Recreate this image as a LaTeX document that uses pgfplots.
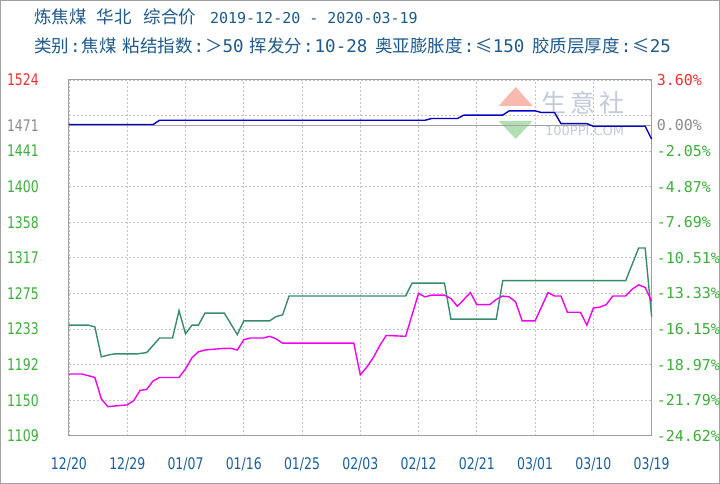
\documentclass[border=0pt]{standalone}
\usepackage{pgfplots}
\pgfplotsset{compat=1.18}
\usepackage{fontspec}
\setmainfont{DejaVu Sans}
\newfontfamily\cjk{Noto Sans CJK SC}
\newfontfamily\mono{DejaVu Sans Mono}
\newfontfamily\lbl{DejaVu Sans}[FakeStretch=0.78]
\definecolor{ttl}{RGB}{30,90,140}
\definecolor{dt}{RGB}{25,95,155}
\definecolor{tg}{RGB}{60,175,60}
\definecolor{tr}{RGB}{235,50,50}
\definecolor{tgray}{RGB}{140,140,140}
\definecolor{lblue}{RGB}{0,0,200}
\definecolor{lgreen}{RGB}{55,140,105}
\definecolor{lmag}{RGB}{240,0,240}
\definecolor{grd}{RGB}{195,195,195}
\definecolor{frm}{RGB}{160,160,160}
\definecolor{wmr}{RGB}{248,185,175}
\definecolor{wmg}{RGB}{180,222,180}
\definecolor{wmt}{RGB}{195,203,218}
\newcommand{\cl}{\hspace{1bp}{\mono:}\hspace{1bp}}
\begin{document}
\begin{tikzpicture}[x=1bp,y=1bp]
\draw[frm, line width=1bp, fill=white] (0.5,-0.5) rectangle (719.5,-483.5);
% title
\node[anchor=base west, inner sep=0, text=ttl] at (34,-24)
  {\cjk\fontsize{17.5bp}{18bp}\selectfont 炼焦煤\hspace{10bp}华北\hspace{12bp}综合价\hspace{14bp}\mono\fontsize{15bp}{18bp}\selectfont 2019-12-20 - 2020-03-19};
\node[anchor=base west, inner sep=0, text=ttl] at (34,-53)
  {\fontsize{17.5bp}{18bp}\selectfont\cjk 类别\cl 焦煤\hspace{6bp}粘结指数\cl ＞{\mono 50}\hspace{6bp}挥发分\cl{\mono 10-28}\hspace{8bp}奥亚膨胀度\cl ≤{\mono 150}\hspace{8bp}胶质层厚度\cl ≤{\mono 25}};
% watermark
\fill[wmr] (499,-106) -- (533,-106) -- (516,-87) -- cycle;
\fill[wmg] (499,-121) -- (533,-121) -- (516,-139) -- cycle;
\node[text=wmt, inner sep=0] at (583,-103) {\cjk\fontsize{25bp}{25bp}\selectfont 生\hspace{4bp}意\hspace{4bp}社};
\node[text=wmt, inner sep=0] at (585,-131) {\fontsize{13bp}{13bp}\selectfont 100PPI.COM};
\begin{axis}[
  at={(69bp,-436bp)}, anchor=south west,
  width=583bp, height=356bp, scale only axis,
  xmin=0, xmax=90, ymin=1109, ymax=1524,
  axis line style={frm, line width=1bp},
  major tick length=0pt,
  grid=major,
  major grid style={grd, dash pattern=on 2bp off 2bp, line width=0.8bp},
  xtick={0,9,...,90},
  xticklabels={12/20,12/29,01/07,01/16,01/25,02/03,02/12,02/21,03/01,03/10,03/19},
  xticklabel style={font=\lbl\fontsize{16bp}{16bp}\selectfont, text=dt, anchor=base, inner sep=0pt, yshift=-34bp},
  ytick={1109,1150.5,1192,1233.5,1275,1316.5,1358,1399.5,1441,1482.5,1524},
  yticklabels={\textcolor{tg}{1109},\textcolor{tg}{1150},\textcolor{tg}{1192},\textcolor{tg}{1233},\textcolor{tg}{1275},\textcolor{tg}{1317},\textcolor{tg}{1358},\textcolor{tg}{1400},\textcolor{tg}{1441},{},\textcolor{tr}{1524}},
  yticklabel style={font=\lbl\fontsize{16bp}{16bp}\selectfont, anchor=east, inner sep=0pt, xshift=-30bp},
  extra y ticks={1471},
  extra y tick labels={\textcolor{tgray}{1471}},
  extra y tick style={major grid style={solid, tgray!80, line width=1bp}},
  clip=false,
]
\addplot[lgreen, line width=1.4bp] coordinates {
(0,1238) (3,1238) (4,1236) (5,1201) (6,1203) (7,1204.5) (10.5,1204.5) (12,1206) (14,1223) (16,1223) (17,1255) (18,1228) (19,1238) (20,1238) (21,1252) (24,1252) (26,1227) (27,1243) (31,1243) (32,1248) (33,1250) (34,1272) (52,1272) (53,1287) (58,1287) (59,1245) (66,1245) (67,1290) (86,1290) (88,1328) (89,1328) (90,1248)
};
\addplot[lmag, line width=1.4bp] coordinates {
(0,1181) (2,1181) (4,1177) (5,1152) (6,1143) (9,1145) (10,1150) (11,1162) (12,1163) (13,1173) (14,1177) (17,1177) (18,1187) (19,1200) (20,1207) (21,1209) (24,1211) (25,1211) (26,1209) (27,1221) (28,1223) (30,1223) (31,1225) (32,1222) (33,1217) (44,1217) (45,1180) (46,1189) (47,1200) (48,1214) (49,1226) (52,1225) (54,1275) (55,1271) (56,1273) (58,1273) (59,1269) (60,1260) (62,1276) (63,1262) (65,1262) (66,1268) (67,1272) (68,1271) (69,1265) (70,1243) (72,1243) (74,1276) (75,1272) (76,1272) (77,1253) (79,1253) (80,1238) (81,1258) (82,1259) (83,1262) (84,1272) (86,1272) (87,1280) (88,1285) (89,1282) (90,1266)
};
\addplot[lblue, line width=1.4bp] coordinates {
(0,1472) (13,1472) (14,1477) (55,1477) (56,1479) (60,1479) (61,1483) (67,1483) (68,1488) (72,1488) (73,1486) (75,1486) (76,1473) (80,1473) (81,1470) (89,1470) (90,1455)
};
\end{axis}
\begin{axis}[
  at={(69bp,-436bp)}, anchor=south west,
  width=583bp, height=356bp, scale only axis,
  xmin=0, xmax=90, ymin=1109, ymax=1524,
  axis x line=none, axis y line*=right,
  y axis line style={draw=none},
  major tick length=0pt,
  ytick={1109,1150.5,1192,1233.5,1275,1316.5,1358,1399.5,1441,1471,1524},
  yticklabels={\textcolor{tg}{-24.62\%},\textcolor{tg}{-21.79\%},\textcolor{tg}{-18.97\%},\textcolor{tg}{-16.15\%},\textcolor{tg}{-13.33\%},\textcolor{tg}{-10.51\%},\textcolor{tg}{-7.69\%},\textcolor{tg}{-4.87\%},\textcolor{tg}{-2.05\%},\textcolor{tgray}{0.00\%},\textcolor{tr}{3.60\%}},
  yticklabel style={font=\mono\fontsize{15bp}{15bp}\selectfont, anchor=west, inner sep=0pt, xshift=5bp},
]
\end{axis}
\end{tikzpicture}
\end{document}
